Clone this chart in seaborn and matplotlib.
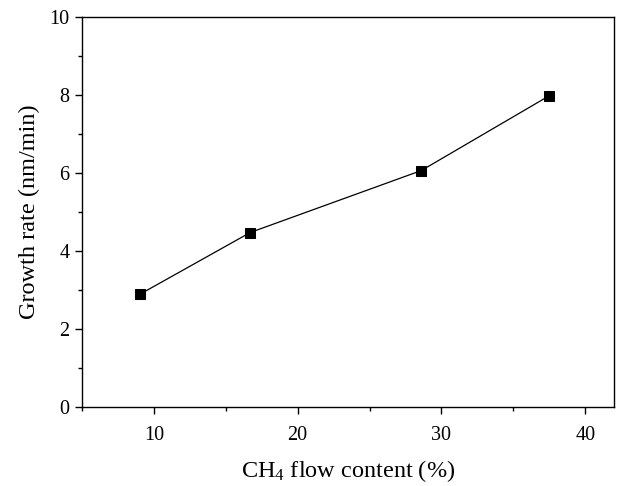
import matplotlib
matplotlib.use("Agg")
import matplotlib.pyplot as plt
import seaborn as sns
import pandas as pd
from matplotlib.ticker import MultipleLocator

ch4_content = [9.0, 16.7, 28.6, 37.5]
growth_rate = [2.88, 4.47, 6.06, 7.98]

df = pd.DataFrame({"ch4": ch4_content, "rate": growth_rate})

sns.set_theme(style="ticks")
plt.rcParams["font.family"] = ["Liberation Serif", "DejaVu Serif"]
plt.rcParams["mathtext.fontset"] = "custom"
plt.rcParams["mathtext.rm"] = "Liberation Serif"
plt.rcParams["mathtext.it"] = "Liberation Serif:italic"
plt.rcParams["text.color"] = "black"
plt.rcParams["axes.labelcolor"] = "black"

fig = plt.figure(figsize=(6.18, 4.86), dpi=100)
ax = fig.add_axes([82/618, 1 - 406.7/486, (614-82)/618, (406.7-17)/486])

sns.lineplot(data=df, x="ch4", y="rate", ax=ax, color="black", linewidth=0.9,
             marker="s", markersize=6.5, markeredgecolor="black",
             markerfacecolor="black")

ax.set_xlim(5, 42)
ax.set_ylim(0, 10)
ax.xaxis.set_major_locator(MultipleLocator(10))
ax.xaxis.set_minor_locator(MultipleLocator(5))
ax.yaxis.set_major_locator(MultipleLocator(2))
ax.yaxis.set_minor_locator(MultipleLocator(1))
ax.tick_params(which="major", direction="out", length=5, width=1.0,
               labelsize=14.5, colors="black")
ax.tick_params(axis="x", which="major", pad=9)
ax.tick_params(axis="y", which="major", pad=4)
ax.tick_params(which="minor", direction="out", length=3, width=1.0, colors="black")
for s in ax.spines.values():
    s.set_visible(True)
    s.set_linewidth(1.0)
    s.set_color("black")

ax.set_xlabel("CH$_4$ flow content (%)", fontsize=17.5, labelpad=9, color="black")
ax.set_ylabel("Growth rate (nm/min)", fontsize=17.5, labelpad=7, color="black")

fig.savefig("out.png", dpi=100)
